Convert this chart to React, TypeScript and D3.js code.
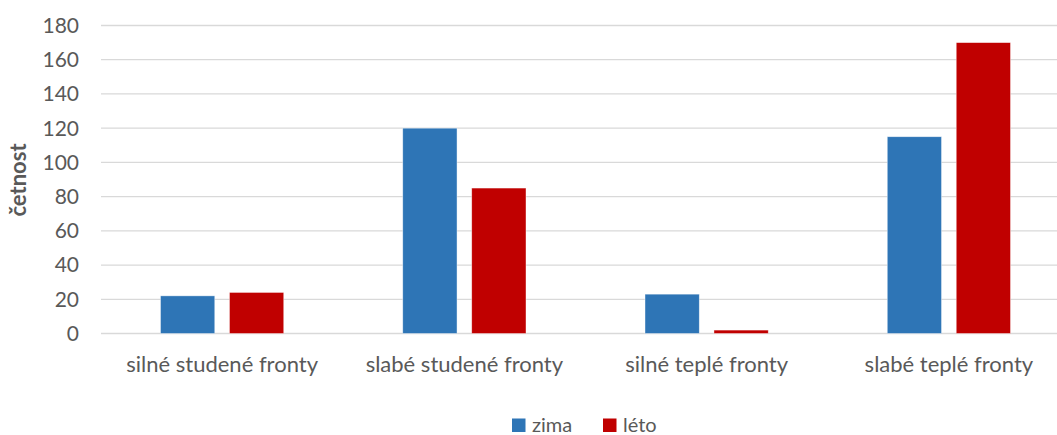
import React, { useEffect, useRef } from "react";
import * as d3 from "d3";

const categories = [
  "silné studené fronty",
  "slabé studené fronty",
  "silné teplé fronty",
  "slabé teplé fronty",
];
const seriesNames = ["zima", "léto"];
const zima = [22, 120, 23, 115];
const leto = [24, 85, 2, 170];
const yTicks = [0, 20, 40, 60, 80, 100, 120, 140, 160, 180];
const colors = ["#2E75B6", "#C00000"];

const width = 1057;
const height = 435;
const margin = { top: 25.5, right: -13, bottom: 101.5, left: 101 };
const font = "Lato, 'Open Sans', sans-serif";

export default function App() {
  const ref = useRef<SVGSVGElement>(null);

  useEffect(() => {
    const svg = d3.select(ref.current);
    svg.selectAll("*").remove();

    const x = d3
      .scaleBand()
      .domain(categories)
      .range([margin.left, width - margin.right])
      .paddingInner(0)
      .paddingOuter(0);
    const y = d3
      .scaleLinear()
      .domain([0, 180])
      .range([height - margin.bottom, margin.top]);

    const inner = d3
      .scaleBand()
      .domain(seriesNames)
      .range([59.5, x.bandwidth() - 59.5])
      .paddingInner(0.213);

    // gridlines
    svg
      .append("g")
      .selectAll("line")
      .data(yTicks)
      .join("line")
      .attr("x1", margin.left)
      .attr("x2", width - margin.right)
      .attr("y1", (d) => y(d))
      .attr("y2", (d) => y(d))
      .attr("stroke", "#D9D9D9")
      .attr("stroke-width", 1.3);

    // y tick labels
    svg
      .append("g")
      .selectAll("text")
      .data(yTicks)
      .join("text")
      .attr("x", 79)
      .attr("y", (d) => y(d))
      .attr("dy", "0.35em")
      .attr("text-anchor", "end")
      .attr("fill", "#595959")
      .attr("font-family", font)
      .attr("font-size", 21)
      .text((d) => d);

    // bars
    const rows = categories.map((c, i) => ({ c, vals: [zima[i], leto[i]] }));
    const groups = svg
      .append("g")
      .selectAll("g")
      .data(rows)
      .join("g")
      .attr("transform", (d) => `translate(${x(d.c)},0)`);
    groups
      .selectAll("rect")
      .data((d) => d.vals.map((v, j) => ({ s: seriesNames[j], v, j })))
      .join("rect")
      .attr("x", (d) => inner(d.s)!)
      .attr("width", inner.bandwidth())
      .attr("y", (d) => y(d.v))
      .attr("height", (d) => y(0) - y(d.v))
      .attr("fill", (d) => colors[d.j])
      .attr("stroke", "#ffffff")
      .attr("stroke-opacity", 0.6)
      .attr("stroke-width", 0.7);

    // category labels
    svg
      .append("g")
      .selectAll("text")
      .data(categories)
      .join("text")
      .attr("x", (d) => x(d)! + x.bandwidth() / 2)
      .attr("y", 372)
      .attr("text-anchor", "middle")
      .attr("fill", "#595959")
      .attr("font-family", font)
      .attr("font-size", 22)
      .text((d) => d);

    // y axis title
    svg
      .append("text")
      .attr("transform", `translate(26,180) rotate(-90)`)
      .attr("text-anchor", "middle")
      .attr("fill", "#595959")
      .attr("font-family", font)
      .attr("font-weight", "bold")
      .attr("font-size", 22)
      .text("četnost");

    // legend
    const legendX = [512, 603];
    const lg = svg
      .append("g")
      .selectAll("g")
      .data(seriesNames)
      .join("g")
      .attr("transform", (d, i) => `translate(${legendX[i]},418.5)`);
    lg.append("rect")
      .attr("width", 13.5)
      .attr("height", 13.5)
      .attr("fill", (d, i) => colors[i]);
    lg.append("text")
      .attr("x", 20)
      .attr("y", 6.5)
      .attr("dy", "0.35em")
      .attr("fill", "#595959")
      .attr("font-family", font)
      .attr("font-size", 20)
      .text((d) => d);
  }, []);

  return (
    <svg
      ref={ref}
      width={width}
      height={height}
      style={{ position: "absolute", left: 0, top: 0, background: "#fff" }}
    />
  );
}
